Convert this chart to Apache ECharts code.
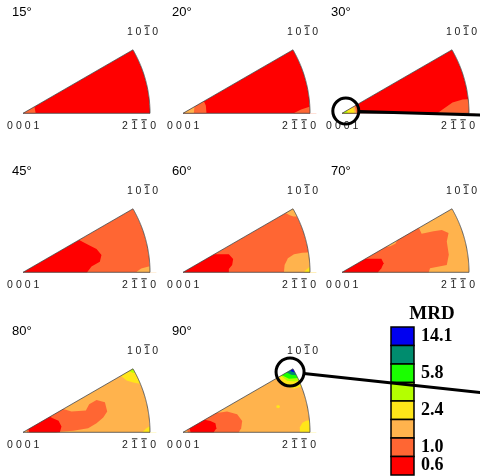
<!DOCTYPE html>
<html>
<head>
<meta charset="utf-8">
<script src="https://cdn.jsdelivr.net/npm/echarts@6/dist/echarts.min.js"></script>
<style>html,body{margin:0;padding:0;background:#fff}#main{width:480px;height:476px}</style>
</head>
<body>
<div id="main"></div>
<script>
// ---- data ----
const levelColors = ['#ff0000','#ff6633','#ffb34d','#ffe619','#b4ff00','#1aff00','#008c6e','#0000f0'];
const legendLabels = ['14.1','','5.8','','2.4','','1.0','0.6']; // top (blue) to bottom (red)
const panelTitles = ['15°','20°','30°','45°','60°','70°','80°','90°'];
const panelBase = [0,0,0,1,1,2,2,2];
const poleDigits = ['0001', '2110', '1010'];      // 0001, 2-1-10, 10-10
const poleBars = [[], [1, 2], [2]];               // digit positions carrying an overbar

// regions: [level, [[u,v],...]] in wedge units (apex 0,0 ; arc radius 1 ; 0..30 deg)
const regions15 = [
  [1, [[0,0],[0.1,0],[0.09,0.052]]]
];
const regions20 = [
  [1, [[0,0],[0.185,0],[0.18,0.06],[0.165,0.095]]],
  [2, [[0,0],[0.085,0],[0.09,0.052]]],
  [1, [[0.87,0],[1.05,0],[1.05,0.05],[0.99,0.05],[0.93,0.03]]]
];
const regions30 = [
  [1, [[0.75,0],[0.8,0.035],[0.87,0.085],[0.95,0.108],[1.05,0.115],[1.05,0]]],
  [1, [[0,0],[0.13,0],[0.115,0.066]]],
  [2, [[0,0],[0.115,0],[0.1,0.058]]],
  [3, [[0,0],[0.1,0],[0.087,0.05]]],
  [4, [[0,0],[0.045,0],[0.04,0.023]]]
];
const regions45 = [
  [0, [[0,0],[0.505,0],[0.539,0.045],[0.605,0.084],[0.618,0.137],[0.579,0.184],[0.513,0.216],[0.442,0.255]]],
  [2, [[0.89,0],[0.93,0.03],[0.99,0.045],[1.05,0.05],[1.05,0]]]
];
const regions60 = [
  [0, [[0,0],[0.361,0],[0.361,0.026],[0.387,0.058],[0.395,0.105],[0.361,0.142],[0.242,0.142]]],
  [2, [[0.795,0],[0.8,0.058],[0.826,0.111],[0.874,0.142],[0.939,0.153],[1.05,0.16],[1.05,0]]],
  [3, [[0.95,0],[0.975,0.025],[1.0,0.045],[1.05,0.05],[1.05,0]]],
  [2, [[0.808,0.466],[0.84,0.45],[0.87,0.44],[0.9,0.44],[1.0,0.5],[0.9,0.56]]]
];
const regions70 = [
  [1, [[0,0],[0.683,0],[0.693,0.032],[0.825,0.058],[0.841,0.138],[0.825,0.243],[0.839,0.31],[0.786,0.333],[0.72,0.323],[0.627,0.304],[0.6,0.36],[0.44,0.26],[0.42,0.225],[0.38,0.205],[0.34,0.2]]],
  [0, [[0,0],[0.283,0],[0.31,0.032],[0.328,0.071],[0.31,0.106],[0.183,0.106]]]
];
const regions80 = [
  [1, [[0.03,0],[0.263,0],[0.289,0.005],[0.395,0.013],[0.513,0.032],[0.579,0.071],[0.632,0.116],[0.663,0.163],[0.645,0.237],[0.579,0.255],[0.521,0.221],[0.495,0.171],[0.382,0.163],[0.31,0.185],[0.03,0.02]]],
  [0, [[0.05,0],[0.29,0],[0.303,0.045],[0.28,0.09],[0.23,0.112],[0.2,0.13],[0.04,0.03]]],
  [3, [[0.94,0],[0.97,0.03],[1.0,0.05],[1.05,0.05],[1.05,0]]],
  [3, [[0.768,0.447],[0.816,0.408],[0.868,0.392],[0.93,0.38],[1.0,0.45],[0.85,0.56]]],
  [4, [[0.835,0.482],[0.865,0.468],[0.89,0.468],[0.9,0.56]]]
];
const regions90 = [
  [1, [[0.04,0],[0.439,0],[0.458,0.032],[0.466,0.089],[0.426,0.142],[0.347,0.163],[0.25,0.15],[0.03,0.02]]],
  [0, [[0.06,0],[0.242,0],[0.263,0.032],[0.255,0.071],[0.216,0.089],[0.16,0.1],[0.05,0.035]]],
  [3, [[0.735,0.195],[0.755,0.19],[0.765,0.205],[0.75,0.215],[0.735,0.21]]],
  [3, [[0.92,0],[0.92,0.04],[0.94,0.075],[0.97,0.09],[1.05,0.1],[1.05,0]]],
  [3, [[0.755,0.436],[0.808,0.361],[0.874,0.342],[0.935,0.36],[1.05,0.45],[0.85,0.56]]],
  [4, [[0.77,0.445],[0.82,0.405],[0.88,0.4],[0.92,0.41],[1.0,0.5],[0.85,0.56]]],
  [5, [[0.78,0.45],[0.834,0.421],[0.887,0.426],[0.91,0.43],[1.0,0.5],[0.85,0.56]]],
  [6, [[0.816,0.471],[0.853,0.453],[0.895,0.45],[1.0,0.5],[0.85,0.56]]],
  [7, [[0.839,0.485],[0.868,0.474],[0.885,0.47],[1.0,0.5],[0.85,0.56]]]
];
const panelRegions = [regions15,regions20,regions30,regions45,regions60,regions70,regions80,regions90];
// callouts: panel index, circle centre in wedge units
const callouts = [
  {panel: 2, at: [0.03, 0.018], r: 13, slope: 0.03},
  {panel: 7, at: [0.843, 0.475], r: 14, slope: 0.108}
];

// ---- layout ----
const colApex = [23, 183, 342];
const rowApex = [113.3, 272.3, 432.3];
const R = 127;

// wedge geometry (axis-domain boundary)
const arcPts = [];
for (let a = 0; a <= 30; a += 0.5) arcPts.push([Math.cos(a*Math.PI/180), Math.sin(a*Math.PI/180)]);
const wedgePts = [[0,0]].concat(arcPts);
const maskPts = [[0,0]].concat(arcPts.slice().reverse(), [[1.1,0],[1.1,0.6],[-0.05,0.6],[-0.05,0]]);

const grids = [], xAxes = [], yAxes = [], series = [];
panelTitles.forEach((t, i) => {
  const ax = colApex[i % 3], ay = rowApex[Math.floor(i / 3)];
  grids.push({left: ax, top: ay - R*0.5, width: R, height: R*0.5});
  xAxes.push({gridIndex: i, type: 'value', min: 0, max: 1, show: false});
  yAxes.push({gridIndex: i, type: 'value', min: 0, max: 0.5, show: false});
  const regs = panelRegions[i];
  const base = panelBase[i];
  series.push({
    type: 'custom', xAxisIndex: i, yAxisIndex: i, silent: true, animation: false,
    data: [[0, 0]],
    renderItem: (params, api) => {
      const px = p => api.coord(p);
      const children = [];
      children.push({type: 'polygon', shape: {points: wedgePts.map(px)}, style: {fill: levelColors[base]}});
      regs.forEach(([lvl, pts]) => {
        children.push({type: 'polygon', shape: {points: pts.map(px)}, style: {fill: levelColors[lvl]}});
      });
      children.push({type: 'polygon', shape: {points: maskPts.map(px)}, style: {fill: '#fff'}});
      children.push({type: 'polygon', shape: {points: wedgePts.map(px)}, style: {fill: 'none', stroke: '#444', lineWidth: 0.8}});
      return {type: 'group', children};
    }
  });
});

const chart = echarts.init(document.getElementById('main'));
chart.setOption({animation: false, grid: grids, xAxis: xAxes, yAxis: yAxes, series});

// ---- texts / legend / callouts ----
const g = [];
const sans = '"Liberation Sans", Arial, sans-serif';
// pole label placement relative to apex: first digit centre x, y, pitch
const poleLayout = [[-13, 13, 8.8], [102, 13, 9.4], [107, -81, 8.4]];
function addPole(x0, y0, k) {
  const [dx, dy, pitch] = poleLayout[k];
  poleDigits[k].split('').forEach((ch, j) => {
    const cx = x0 + dx + j*pitch, cy = y0 + dy;
    g.push({type: 'text', x: cx, y: cy, z: 10, style: {text: ch, font: '10.5px ' + sans, fill: '#222', textAlign: 'center', textVerticalAlign: 'middle'}});
    if (poleBars[k].indexOf(j) >= 0) {
      g.push({type: 'line', z: 10, shape: {x1: cx - 2.5, y1: cy - 6.5, x2: cx + 3, y2: cy - 6.5}, style: {stroke: '#222', lineWidth: 1}});
    }
  });
}
panelTitles.forEach((t, i) => {
  const [x0, y0] = chart.convertToPixel({gridIndex: i}, [0, 0]);
  g.push({type: 'text', left: x0 - 11, top: y0 - 107, z: 10, style: {text: t, font: '13px ' + sans, fill: '#000'}});
  addPole(x0, y0, 0); addPole(x0, y0, 1); addPole(x0, y0, 2);
});
callouts.forEach(c => {
  const [cx, cy] = chart.convertToPixel({gridIndex: c.panel}, c.at);
  const W = chart.getWidth();
  const ang = Math.atan(c.slope);
  const sx = cx + c.r*Math.cos(ang), sy = cy + c.r*Math.sin(ang);
  g.push({type: 'circle', z: 20, shape: {cx, cy, r: c.r}, style: {fill: 'none', stroke: '#000', lineWidth: 3}});
  g.push({type: 'line', z: 20, shape: {x1: sx, y1: sy, x2: W + 5, y2: sy + (W + 5 - sx)*c.slope}, style: {stroke: '#000', lineWidth: 3}});
});
// legend
const lgX = 391, lgTop = 327, lgW = 23, lgH = 18.5;
g.push({type: 'text', x: 432, y: 314, z: 10, style: {text: 'MRD', font: 'bold 19px "Liberation Serif", "Times New Roman", serif', fill: '#000', textAlign: 'center', textVerticalAlign: 'middle'}});
legendLabels.forEach((lab, k) => {
  const lvl = levelColors.length - 1 - k;
  g.push({type: 'rect', z: 10, shape: {x: lgX, y: lgTop + k*lgH, width: lgW, height: lgH}, style: {fill: levelColors[lvl], stroke: '#000', lineWidth: 1.5}});
  if (lab) g.push({type: 'text', z: 10, x: 421, y: lgTop + (k + 0.5)*lgH, style: {text: lab, font: 'bold 18px "Liberation Serif", "Times New Roman", serif', fill: '#000', textVerticalAlign: 'middle'}});
});
chart.setOption({graphic: g});
</script>
</body>
</html>
